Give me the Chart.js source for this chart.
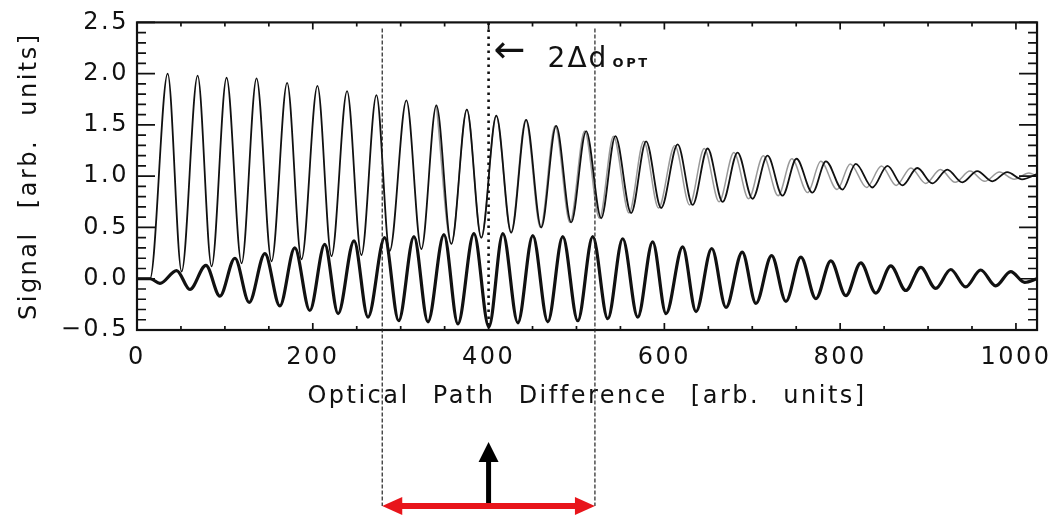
<!DOCTYPE html>
<html><head><meta charset="utf-8">
<script src="https://cdn.jsdelivr.net/npm/chart.js@4.4.1/dist/chart.umd.min.js"></script>
<style>html,body{margin:0;padding:0;background:#fff;}canvas{display:block;}</style>
</head><body>
<canvas id="c" width="1060" height="521"></canvas>
<script>
// ---- tick labels / titles ----
const X_TICKS = [0, 200, 400, 600, 800, 1000];
const Y_TICKS = [-0.5, 0, 0.5, 1, 1.5, 2, 2.5];
const X_MINOR_STEP = 50;
const Y_MINOR_STEP = 0.1;
const X_TITLE = 'Optical Path Difference [arb. units]';
const Y_TITLE = 'Signal [arb. units]';

// ---- upper interferogram (black, thin): extrema ----
const opdSignal = [0, 14.8, 34.9, 50.8, 69.0, 84.9, 101.9, 119.0, 136.0, 153.1, 170.8, 187.2, 205.3, 221.3, 239.0, 255.3, 272.4, 287.5, 306.5, 323.5, 340.6, 357.6, 375.3, 391.7, 408.8, 425.8, 442.8, 459.9, 476.9, 494.0, 511.0, 528.1, 544.3, 562.2, 579.2, 596.3, 615.1, 632.2, 649.2, 666.3, 683.3, 700.3, 717.4, 734.4, 750.3, 768.5, 783.8, 802.6, 817.8, 836.7, 853.8, 870.8, 887.8, 904.9, 921.9, 939.0, 956.0, 973.1, 990.1, 1007.0, 1024];
const signal = [0, 0, 2.00, 0.07, 1.98, 0.12, 1.96, 0.15, 1.955, 0.17, 1.91, 0.19, 1.88, 0.22, 1.83, 0.23, 1.79, 0.27, 1.74, 0.29, 1.69, 0.34, 1.65, 0.40, 1.59, 0.45, 1.55, 0.50, 1.49, 0.55, 1.44, 0.59, 1.39, 0.64, 1.34, 0.69, 1.31, 0.72, 1.27, 0.75, 1.23, 0.78, 1.20, 0.81, 1.17, 0.84, 1.145, 0.87, 1.12, 0.89, 1.10, 0.91, 1.08, 0.93, 1.065, 0.94, 1.05, 0.95, 1.04, 0.97, 1.02];

// ---- reference interferogram (gray, thin) ----
const opdReference = [340.6, 357.6, 375.3, 391.7, 408.7, 425.4, 442.2, 459.0, 475.7, 492.6, 509.3, 526.1, 542.1, 559.8, 576.5, 593.4, 611.9, 628.7, 645.4, 662.3, 679.1, 695.8, 712.6, 729.4, 745.0, 763.0, 778.0, 796.5, 811.5, 830.1, 847.0, 863.7, 880.5, 897.3, 914.1, 930.9, 947.7, 964.5, 981.3, 998.0, 1014.8, 1024];
const reference = [1.69, 0.34, 1.65, 0.40, 1.59, 0.45, 1.55, 0.50, 1.49, 0.55, 1.44, 0.59, 1.39, 0.64, 1.34, 0.69, 1.30, 0.72, 1.27, 0.75, 1.23, 0.78, 1.20, 0.81, 1.17, 0.84, 1.145, 0.87, 1.12, 0.89, 1.10, 0.91, 1.08, 0.93, 1.065, 0.94, 1.05, 0.95, 1.04, 0.97, 1.03, 1.0];

// ---- difference signal (black, thick) ----
const opdDifference = [0, 15, 26.1, 45.1, 60.2, 78.4, 94.3, 111.4, 127.6, 145.5, 162.5, 179.5, 196.6, 213.6, 228.8, 246.9, 262.8, 281.8, 297.7, 315.1, 331.0, 349.2, 365.1, 383.3, 400.3, 416.3, 433.3, 450.3, 467.4, 484.4, 501.5, 518.5, 535.6, 552.6, 569.7, 586.7, 601.9, 620.8, 636.0, 653.9, 670.1, 688.6, 704.2, 722.0, 738.3, 755.3, 772.4, 789.4, 806.5, 823.5, 840.6, 857.6, 874.7, 891.7, 908.7, 925.8, 942.8, 959.9, 976.9, 994.0, 1010.0, 1024];
const difference = [0, 0, -0.045, 0.08, -0.105, 0.13, -0.17, 0.20, -0.23, 0.245, -0.265, 0.30, -0.31, 0.335, -0.34, 0.37, -0.375, 0.40, -0.41, 0.41, -0.42, 0.43, -0.44, 0.44, -0.47, 0.44, -0.43, 0.42, -0.42, 0.41, -0.41, 0.41, -0.39, 0.39, -0.375, 0.36, -0.34, 0.31, -0.32, 0.295, -0.28, 0.26, -0.24, 0.225, -0.22, 0.21, -0.195, 0.175, -0.165, 0.155, -0.14, 0.125, -0.115, 0.11, -0.095, 0.09, -0.08, 0.085, -0.07, 0.07, -0.035, 0.0];

// ---- annotations (OPD values) ----
const windowLeft = 279;
const windowRight = 521;
const opdCentre = 400;
const annotationArrow = '\u2190';
const annotationMain = '2\u0394d';
const annotationSub = 'OPT';

const FONT = "'DejaVu Sans', sans-serif";
const toPts = (xs, ys) => xs.map((x, i) => ({x: x, y: ys[i]}));
const fmtY = v => Number(v).toFixed(1).replace('-', '\u2212');
const fmtX = v => String(Math.round(v));

const deco = {
  id: 'deco',
  beforeDraw(chart) {
    const c = chart.ctx;
    c.letterSpacing = '2.5px';
    c.wordSpacing = '13px';
  },
  afterDraw(chart) {
    const c = chart.ctx, a = chart.chartArea, xs = chart.scales.x, ys = chart.scales.y;
    c.save();
    c.letterSpacing = '0px'; c.wordSpacing = '0px';
    // ticks (inward, all four sides)
    c.strokeStyle = '#111'; c.lineWidth = 1.7;
    c.beginPath();
    for (let i = 0; ; i++) {
      const v = i * X_MINOR_STEP; if (v > xs.max + 1e-9) break;
      const px = xs.getPixelForValue(v);
      const L = X_TICKS.includes(v) ? 7 : 4;
      c.moveTo(px, a.bottom); c.lineTo(px, a.bottom - L);
      c.moveTo(px, a.top); c.lineTo(px, a.top + L);
    }
    for (let i = 0; ; i++) {
      const v = ys.min + i * Y_MINOR_STEP; if (v > ys.max + 1e-9) break;
      const py = ys.getPixelForValue(v);
      const L = Y_TICKS.some(t => Math.abs(t - v) < 1e-6) ? 18 : 9;
      c.moveTo(a.left, py); c.lineTo(a.left + L, py);
      c.moveTo(a.right, py); c.lineTo(a.right - L, py);
    }
    c.stroke();
    // frame
    c.lineWidth = 2.2;
    c.strokeRect(a.left, a.top, a.right - a.left, a.bottom - a.top);
    // dashed window lines
    const xl = xs.getPixelForValue(windowLeft), xr = xs.getPixelForValue(windowRight), xc = xs.getPixelForValue(opdCentre);
    const arrowY = 506;
    c.setLineDash([4, 2]); c.lineWidth = 1.2; c.strokeStyle = '#222';
    for (const px of [xl, xr]) { c.beginPath(); c.moveTo(px, a.top + 6); c.lineTo(px, arrowY); c.stroke(); }
    // dotted centre line
    c.setLineDash([2.5, 4.5]); c.lineWidth = 2.6; c.strokeStyle = '#111';
    c.beginPath(); c.moveTo(xc, a.top); c.lineTo(xc, a.bottom); c.stroke();
    c.setLineDash([]);
    // label
    c.fillStyle = '#111';
    c.textBaseline = 'alphabetic'; c.textAlign = 'left';
    c.font = '38px ' + FONT;
    c.fillText(annotationArrow, xc + 5, 62);
    c.font = '28px ' + FONT; c.letterSpacing = '2px';
    c.fillText(annotationMain, xc + 59, 67);
    c.font = 'bold 13px ' + FONT; c.letterSpacing = '2.5px';
    c.fillText(annotationSub, xc + 124, 67);
    c.letterSpacing = '0px';
    // red double arrow
    c.strokeStyle = '#e8151b'; c.fillStyle = '#e8151b'; c.lineWidth = 6;
    c.beginPath(); c.moveTo(xl + 15, arrowY); c.lineTo(xr - 15, arrowY); c.stroke();
    c.beginPath(); c.moveTo(xl, arrowY); c.lineTo(xl + 20, arrowY - 9); c.lineTo(xl + 20, arrowY + 9); c.closePath(); c.fill();
    c.beginPath(); c.moveTo(xr, arrowY); c.lineTo(xr - 20, arrowY - 9); c.lineTo(xr - 20, arrowY + 9); c.closePath(); c.fill();
    // black up arrow
    c.strokeStyle = '#000'; c.fillStyle = '#000'; c.lineWidth = 5;
    c.beginPath(); c.moveTo(xc, arrowY - 3); c.lineTo(xc, 458); c.stroke();
    c.beginPath(); c.moveTo(xc, 442); c.lineTo(xc - 10, 462); c.lineTo(xc + 10, 462); c.closePath(); c.fill();
    c.restore();
  }
};

new Chart(document.getElementById('c').getContext('2d'), {
  type: 'line',
  data: {
    datasets: [
      {label: 'signal', data: toPts(opdSignal, signal), borderColor: '#111', borderWidth: 1.8, pointRadius: 0, cubicInterpolationMode: 'monotone', fill: false, order: 1},
      {label: 'difference', data: toPts(opdDifference, difference), borderColor: '#111', borderWidth: 3.2, pointRadius: 0, cubicInterpolationMode: 'monotone', fill: false, order: 2},
      {label: 'reference', data: toPts(opdReference, reference), borderColor: '#9a9a9a', borderWidth: 1.5, pointRadius: 0, cubicInterpolationMode: 'monotone', fill: false, order: 3}
    ]
  },
  options: {
    responsive: false, animation: false, devicePixelRatio: 1,
    layout: {padding: {left: 15, top: 10, right: 22, bottom: 110}},
    plugins: {legend: {display: false}, tooltip: {enabled: false}},
    scales: {
      x: {
        type: 'linear', min: 0, max: 1024,
        afterBuildTicks: s => { s.ticks = X_TICKS.map(v => ({value: v})); },
        afterFit: s => { s.height = 81; },
        grid: {display: false, drawTicks: false}, border: {display: false},
        ticks: {font: {family: FONT, size: 24}, color: '#111', padding: 13, maxRotation: 0, autoSkip: false, callback: v => fmtX(v)},
        title: {display: true, text: X_TITLE, font: {family: FONT, size: 24}, color: '#111', padding: 0}
      },
      y: {
        type: 'linear', min: -0.5, max: 2.5,
        afterBuildTicks: s => { s.ticks = Y_TICKS.map(v => ({value: v})); },
        afterFit: s => { s.width = 122; },
        grid: {display: false, drawTicks: false}, border: {display: false},
        ticks: {font: {family: FONT, size: 24}, color: '#111', padding: 8, callback: v => fmtY(v)},
        title: {display: true, text: Y_TITLE, font: {family: FONT, size: 24}, color: '#111', padding: 0}
      }
    }
  },
  plugins: [deco]
});
</script>
</body></html>
